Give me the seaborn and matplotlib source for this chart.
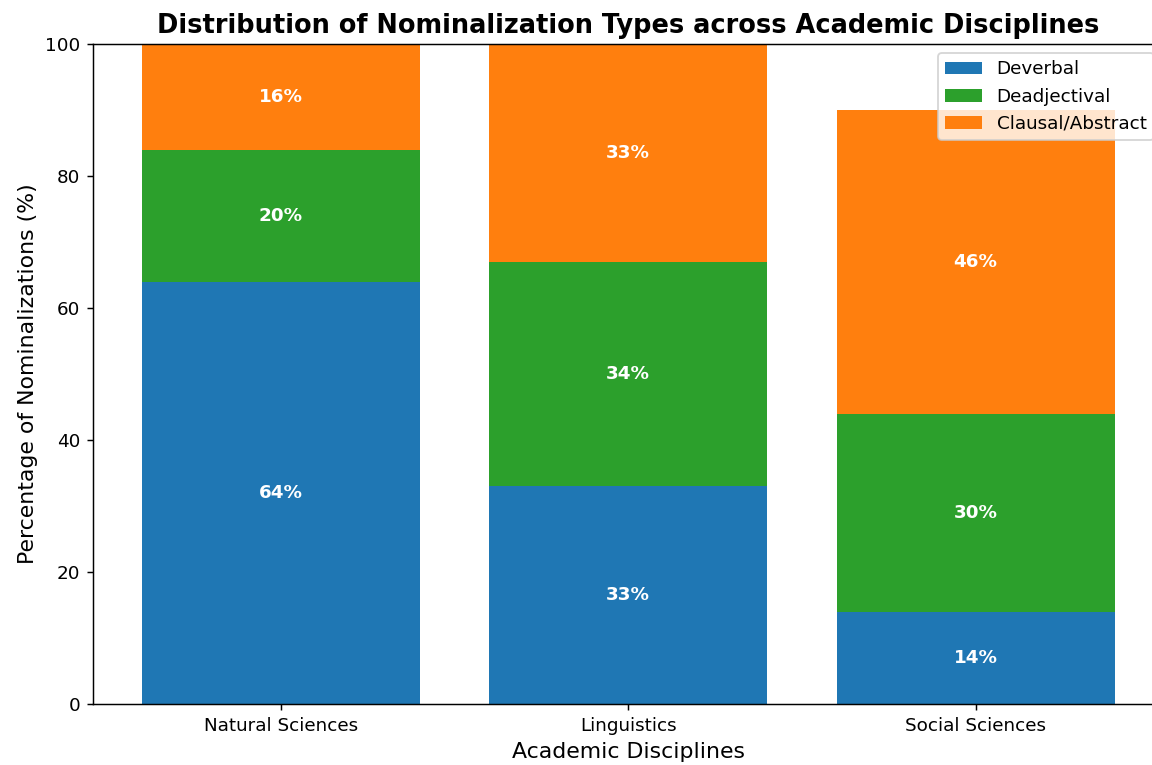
import matplotlib
matplotlib.use("Agg")
import matplotlib.pyplot as plt
import seaborn as sns

# Data
disciplines = ["Natural Sciences", "Linguistics", "Social Sciences"]
deverbal = [64, 33, 14]
deadjectival = [20, 34, 30]
clausal = [16, 33, 46]

series = [
    ("Deverbal", deverbal, "#1f77b4"),
    ("Deadjectival", deadjectival, "#2ca02c"),
    ("Clausal/Abstract", clausal, "#ff7f0e"),
]

DPI = 132
fig = plt.figure(figsize=(1152 / DPI, 765 / DPI), dpi=DPI)
ax = fig.add_axes([0.0807, 0.0797, 0.929, 0.8628])

bottom = [0, 0, 0]
for name, vals, color in series:
    sns.barplot(x=disciplines, y=vals, bottom=bottom, color=color, label=name,
                width=0.8, errorbar=None, saturation=1, ax=ax)
    container = ax.containers[-1]
    ax.bar_label(container, labels=[f"{v}%" for v in vals], label_type="center",
                 color="white", fontweight="bold", fontsize=10)
    bottom = [b + v for b, v in zip(bottom, vals)]

ax.set_xlim(-0.54, 2.54)
ax.set_ylim(0, 100)
ax.set_title("Distribution of Nominalization Types across Academic Disciplines",
             fontsize=14, fontweight="bold")
ax.set_xlabel("Academic Disciplines", fontsize=12)
ax.set_ylabel("Percentage of Nominalizations (%)", fontsize=12)
ax.legend(loc="upper right")

fig.savefig("out.png", dpi=DPI)
